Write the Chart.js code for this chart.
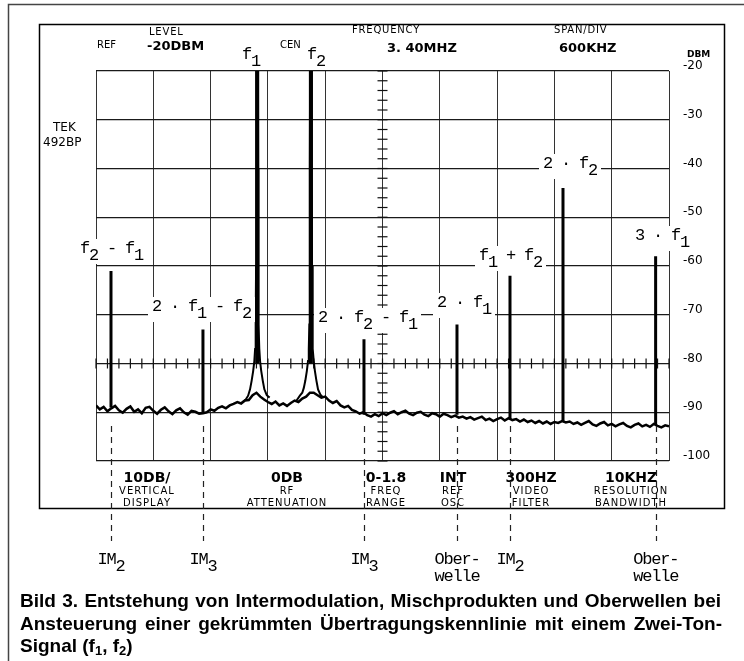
<!DOCTYPE html>
<html>
<head>
<meta charset="utf-8">
<script src="https://cdn.jsdelivr.net/npm/chart.js@4.4.0/dist/chart.umd.min.js"></script>
<style>
  body { margin:0; background:#fff; }
  canvas { display:block; }
</style>
</head>
<body>
<canvas id="spectrum" width="744" height="661"></canvas>
<script>
// screen settings: centre 3.40 MHz, 600 kHz/div, ref -20 dBm, 10 dB/div
var freqMin = 0.4, freqMax = 6.4, freqStep = 0.6;
var levelMin = -100, levelMax = -20, levelStep = 10;

var noiseStart = 0.40, noiseStep = 0.04;
var noiseDbm = [
  -88.6,-89.4,-88.9,-89.8,-89.2,-88.7,-89.6,-90.1,-89.3,-88.8,
  -89.9,-89.4,-90.2,-89.1,-88.9,-89.7,-90.3,-89.5,-89.0,-89.8,
  -90.4,-89.6,-89.2,-90.0,-90.5,-89.7,-89.9,-90.3,
  -90.2,-90.0,-89.4,-89.7,-89.1,-88.8,-89.2,-88.6,-88.3,-87.9,-88.2,-87.6,
  -87.5,-86.5,-86.0,
  -86.8,-87.4,-87.9,-88.3,-87.8,-88.6,-88.2,-88.7,-88.1,-87.6,-87.9,-87.2,-86.8,
  -86.0,-86.0,-86.5,
  -87.0,-86.8,-87.6,-88.1,-87.7,-88.6,-89.0,-88.7,-89.5,-89.8,-90.3,-90.0,-90.6,-90.9,-90.4,-90.8,-90.2,
  -90.6,-90.1,-89.8,-90.4,-90.0,-89.7,-90.3,-90.6,-90.1,-89.9,-90.5,-90.8,-90.2,-90.4,-90.9,-90.3,-90.6,-91.0,-90.7,-91.1,
  -90.9,-91.3,-91.0,-91.5,-91.2,-90.9,-91.6,-91.3,-91.8,-91.4,-91.1,-91.7,-91.2,-91.6,
  -91.4,-91.9,-91.5,-92.0,-91.7,-92.2,-91.8,-92.3,-91.9,-92.4,-92.0,-92.2,-91.8,-92.1,
  -91.9,-92.4,-92.1,-92.6,-92.2,-91.8,-92.5,-92.8,-92.3,-92.0,-92.7,-92.4,-92.9,-92.5,
  -92.2,-92.8,-93.1,-92.6,-92.3,-92.9,-92.6,-93.0,-92.4,-92.8,-93.1,-92.7,-92.9
];

// the two tones f1 and f2 with their skirts
var carrierMhz = [2.088, 2.650];
var carrierDbm = [-20, -20];
var carrierFloor = [-80, -80];
var f1Mhz = [1.928,1.968,1.993,2.013,2.030,2.046,2.058,2.066,2.072,2.076,2.078,2.080,
             2.096,2.098,2.100,2.104,2.110,2.118,2.130,2.146,2.163,2.188,2.218];
var f1Dbm = [-88.0,-87.4,-86.6,-85.3,-83.5,-81.5,-79.5,-77,-72,-60,-40,-20,
             -20,-40,-60,-72,-77,-79.5,-81.5,-83.5,-85.3,-86.5,-87.0];
var f2Mhz = [2.500,2.535,2.560,2.576,2.592,2.608,2.620,2.628,2.634,2.638,2.640,2.642,
             2.658,2.660,2.662,2.666,2.672,2.680,2.692,2.708,2.725,2.750,2.780];
var f2Dbm = [-87.6,-86.6,-86.0,-85.0,-83.5,-81.5,-79.5,-77,-72,-60,-40,-20,
             -20,-40,-60,-72,-77,-79.5,-81.5,-83.5,-85.3,-86.4,-87.0];

// mixing products and harmonics
var productNames = ['f2-f1', '2f1-f2', '2f2-f1', '2f1', 'f1+f2', '2f2', '3f1'];
var productMhz = [0.557, 1.52, 3.206, 4.18, 4.735, 5.29, 6.26];
var productDbm = [-61, -73, -75, -72, -62, -44, -58];
var productFloor = [-89, -90, -90.5, -90.5, -91.5, -92, -92.5];

// products marked below the screen
var markMhz = [0.557, 1.52, 3.206, 4.18, 4.735, 6.26];
var markText = ['IM_2', 'IM_3', 'IM_3', 'Ober-|welle', 'IM_2', 'Ober-|welle'];

// dBm tick labels on the right
var levelTicks = [-20, -30, -40, -50, -60, -70, -80, -90, -100];

var noisePoints = [];
for (var i = 0; i < noiseDbm.length; i++) {
  noisePoints.push({x: noiseStart + i * noiseStep, y: noiseDbm[i]});
}
var f1Points = [], f2Points = [];
for (var i = 0; i < f1Mhz.length; i++) f1Points.push({x: f1Mhz[i], y: f1Dbm[i]});
for (var i = 0; i < f2Mhz.length; i++) f2Points.push({x: f2Mhz[i], y: f2Dbm[i]});
var spikePoints = [];
for (var i = 0; i < productMhz.length; i++) {
  spikePoints.push({x: productMhz[i], y: productFloor[i]});
  spikePoints.push({x: productMhz[i], y: productDbm[i]});
  spikePoints.push({x: productMhz[i], y: null});
}
var carrierPoints = [];
for (var i = 0; i < carrierMhz.length; i++) {
  carrierPoints.push({x: carrierMhz[i], y: carrierFloor[i]});
  carrierPoints.push({x: carrierMhz[i], y: carrierDbm[i]});
  carrierPoints.push({x: carrierMhz[i], y: null});
}

var MONO = '"Liberation Mono", "DejaVu Sans Mono", monospace';
var SANS = '"DejaVu Sans", sans-serif';
var CAP = '"Liberation Sans", Arial, sans-serif';

// typewriter labels, '_' drops the next char half a line
function typeLabel(ctx, str, x, y, withBg) {
  ctx.font = '17px ' + MONO;
  ctx.textAlign = 'left';
  ctx.textBaseline = 'alphabetic';
  var adv = 9;
  var n = str.replace(/_/g, '').length;
  if (withBg) {
    ctx.fillStyle = '#fff';
    ctx.fillRect(x - 4, y - 14, n * adv + 8, 25);
  }
  ctx.fillStyle = '#000';
  var cx = x;
  for (var i = 0; i < str.length; i++) {
    var ch = str[i], dy = 0;
    if (ch === '_') { i++; ch = str[i]; dy = 7; }
    ctx.fillText(ch, cx, y + dy);
    cx += adv;
  }
}

function txt(ctx, s, x, y, font, align, spacing) {
  ctx.font = font;
  ctx.textAlign = align || 'left';
  ctx.textBaseline = 'alphabetic';
  ctx.letterSpacing = spacing || '0px';
  ctx.fillStyle = '#000';
  ctx.fillText(s, x, y);
  ctx.letterSpacing = '0px';
}

function justified(ctx, s, x, y, width) {
  var words = s.split(' ');
  var total = 0;
  for (var i = 0; i < words.length; i++) total += ctx.measureText(words[i]).width;
  var space = ctx.measureText(' ').width;
  var gap = (width - total) / (words.length - 1);
  ctx.save();
  ctx.translate(x, y);
  if (gap < space * 0.8) {
    var k = width / (total + space * 0.8 * (words.length - 1));
    ctx.scale(k, 1);
    gap = space * 0.8;
  }
  var cx = 0;
  for (var i = 0; i < words.length; i++) {
    ctx.fillText(words[i], cx, 0);
    cx += ctx.measureText(words[i]).width + gap;
  }
  ctx.restore();
}

var screenPlugin = {
  id: 'screen',
  beforeDatasetsDraw: function(chart) {
    var ctx = chart.ctx, xs = chart.scales.x, ys = chart.scales.y;
    ctx.save();
    ctx.strokeStyle = '#111';
    ctx.lineWidth = 1.2;
    // minor ticks on the centre line and on the -80 line
    var cx = xs.getPixelForValue(3.4);
    for (var k = 0; k <= 40; k++) {
      var py = ys.getPixelForValue(levelMin + k * 2);
      ctx.beginPath(); ctx.moveTo(cx - 5, py); ctx.lineTo(cx + 5, py); ctx.stroke();
    }
    var ly = ys.getPixelForValue(-80);
    for (var k = 0; k <= 50; k++) {
      var px = xs.getPixelForValue(freqMin + k * 0.12);
      ctx.beginPath(); ctx.moveTo(px, ly - 5); ctx.lineTo(px, ly + 5); ctx.stroke();
    }
    ctx.restore();
  },
  afterDatasetsDraw: function(chart) {
    var ctx = chart.ctx;
    ctx.save();
    var spots = [
      ['f_2 - f_1', 80, 253], ['2 · f_1 - f_2', 152, 311], ['2 · f_2 - f_1', 318, 322],
      ['2 · f_1', 437, 307], ['f_1 + f_2', 479, 260], ['2 · f_2', 543, 168], ['3 · f_1', 635, 240]
    ];
    for (var i = 0; i < spots.length; i++) typeLabel(ctx, spots[i][0], spots[i][1], spots[i][2], true);
    ctx.restore();
  },
  afterDraw: function(chart) {
    var ctx = chart.ctx, xs = chart.scales.x, ys = chart.scales.y;
    ctx.save();
    // page frame and screen bezel
    ctx.strokeStyle = '#444';
    ctx.lineWidth = 1.5;
    ctx.beginPath(); ctx.moveTo(8.5, 661); ctx.lineTo(8.5, 4.5); ctx.lineTo(744, 4.5); ctx.stroke();
    ctx.strokeStyle = '#000';
    ctx.strokeRect(39.5, 24.5, 685, 484);

    // carrier labels above the screen
    typeLabel(ctx, 'f_1', 242, 59, false);
    typeLabel(ctx, 'f_2', 307, 59, false);

    // readouts, top
    txt(ctx, 'LEVEL', 149, 35, '10px ' + SANS, 'left', '0.8px');
    txt(ctx, 'REF', 97, 48, '10px ' + SANS);
    txt(ctx, '-20DBM', 147, 50, 'bold 13px ' + SANS);
    txt(ctx, 'CEN', 280, 48, '10px ' + SANS);
    txt(ctx, 'FREQUENCY', 352, 33, '10px ' + SANS, 'left', '0.8px');
    txt(ctx, '3. 40MHZ', 387, 52, 'bold 13px ' + SANS);
    txt(ctx, 'SPAN/DIV', 554, 33, '10px ' + SANS, 'left', '0.8px');
    txt(ctx, '600KHZ', 559, 52, 'bold 13px ' + SANS);
    txt(ctx, 'DBM', 687, 57, 'bold 9px ' + SANS);
    txt(ctx, 'TEK', 53, 131, '12px ' + SANS);
    txt(ctx, '492BP', 43, 146, '12px ' + SANS);

    // readouts, bottom
    var bottom = [
      ['10DB/', 'VERTICAL', 'DISPLAY', 147],
      ['0DB', 'RF', 'ATTENUATION', 287],
      ['0-1.8', 'FREQ', 'RANGE', 386],
      ['INT', 'REF', 'OSC', 453],
      ['300HZ', 'VIDEO', 'FILTER', 531],
      ['10KHZ', 'RESOLUTION', 'BANDWIDTH', 631]
    ];
    for (var i = 0; i < bottom.length; i++) {
      txt(ctx, bottom[i][0], bottom[i][3], 482, 'bold 14px ' + SANS, 'center');
      txt(ctx, bottom[i][1], bottom[i][3], 494, '10px ' + SANS, 'center', '1px');
      txt(ctx, bottom[i][2], bottom[i][3], 506, '10px ' + SANS, 'center', '1px');
    }

    // dashed markers down to the names
    ctx.strokeStyle = '#222';
    ctx.lineWidth = 1.2;
    ctx.setLineDash([6, 5]);
    for (var i = 0; i < markMhz.length; i++) {
      var px = Math.round(xs.getPixelForValue(markMhz[i])) + 0.5;
      ctx.beginPath();
      ctx.moveTo(px, ys.getPixelForValue(-92) + 4);
      ctx.lineTo(px, 541);
      ctx.stroke();
    }
    ctx.setLineDash([]);
    for (var i = 0; i < markMhz.length; i++) {
      var px = xs.getPixelForValue(markMhz[i]);
      var lines = markText[i].split('|');
      for (var j = 0; j < lines.length; j++) {
        var w = lines[j].replace(/_/g, '').length * 9;
        typeLabel(ctx, lines[j], px - w / 2, 564 + j * 17, false);
      }
    }

    // caption
    ctx.fillStyle = '#000';
    ctx.font = 'bold 19px ' + CAP;
    ctx.textAlign = 'left';
    justified(ctx, 'Bild 3. Entstehung von Intermodulation, Mischprodukten und Oberwellen bei', 20, 607, 701);
    justified(ctx, 'Ansteuerung einer gekrümmten Übertragungskennlinie mit einem Zwei-Ton-', 20, 630, 702);
    var cx = 20;
    var parts = [['Signal (f', 0], ['1', 1], [', f', 0], ['2', 1], [')', 0]];
    for (var i = 0; i < parts.length; i++) {
      ctx.font = parts[i][1] ? 'bold 13px ' + CAP : 'bold 19px ' + CAP;
      ctx.fillText(parts[i][0], cx, 652 + (parts[i][1] ? 3 : 0));
      cx += ctx.measureText(parts[i][0]).width;
    }
    ctx.restore();
  }
};

var ctx = document.getElementById('spectrum').getContext('2d');
var chart = new Chart(ctx, {
  type: 'line',
  data: {
    datasets: [
      {label: 'noise', data: noisePoints, borderColor: '#000', borderWidth: 2.5},
      {label: 'f1', data: f1Points, borderColor: '#000', borderWidth: 2},
      {label: 'f2', data: f2Points, borderColor: '#000', borderWidth: 2},
      {label: 'carriers', data: carrierPoints, borderColor: '#000', borderWidth: 4, spanGaps: false},
      {label: 'products', data: spikePoints, borderColor: '#000', borderWidth: 3, spanGaps: false}
    ]
  },
  options: {
    responsive: false,
    animation: false,
    devicePixelRatio: 1,
    layout: {padding: {left: 96, top: 71, right: 0, bottom: 200}},
    elements: {point: {radius: 0}, line: {tension: 0}},
    plugins: {legend: {display: false}, tooltip: {enabled: false}},
    scales: {
      x: {
        type: 'linear', min: freqMin, max: freqMax,
        ticks: {stepSize: freqStep, display: false},
        grid: {color: '#333', lineWidth: 1, drawTicks: false},
        border: {display: false},
        afterFit: function(s) { s.height = 0; }
      },
      y: {
        position: 'right', min: levelMin, max: levelMax,
        afterBuildTicks: function(s) { s.ticks = levelTicks.map(function(v) { return {value: v}; }); },
        ticks: {stepSize: levelStep, padding: 14, crossAlign: 'near', labelOffset: -5, color: '#000',
                font: {family: 'DejaVu Sans', size: 12}},
        grid: {color: '#1a1a1a', lineWidth: 1.3, drawTicks: false},
        border: {display: false},
        afterFit: function(s) { s.width = 75; }
      }
    }
  },
  plugins: [screenPlugin]
});
</script>
</body>
</html>
